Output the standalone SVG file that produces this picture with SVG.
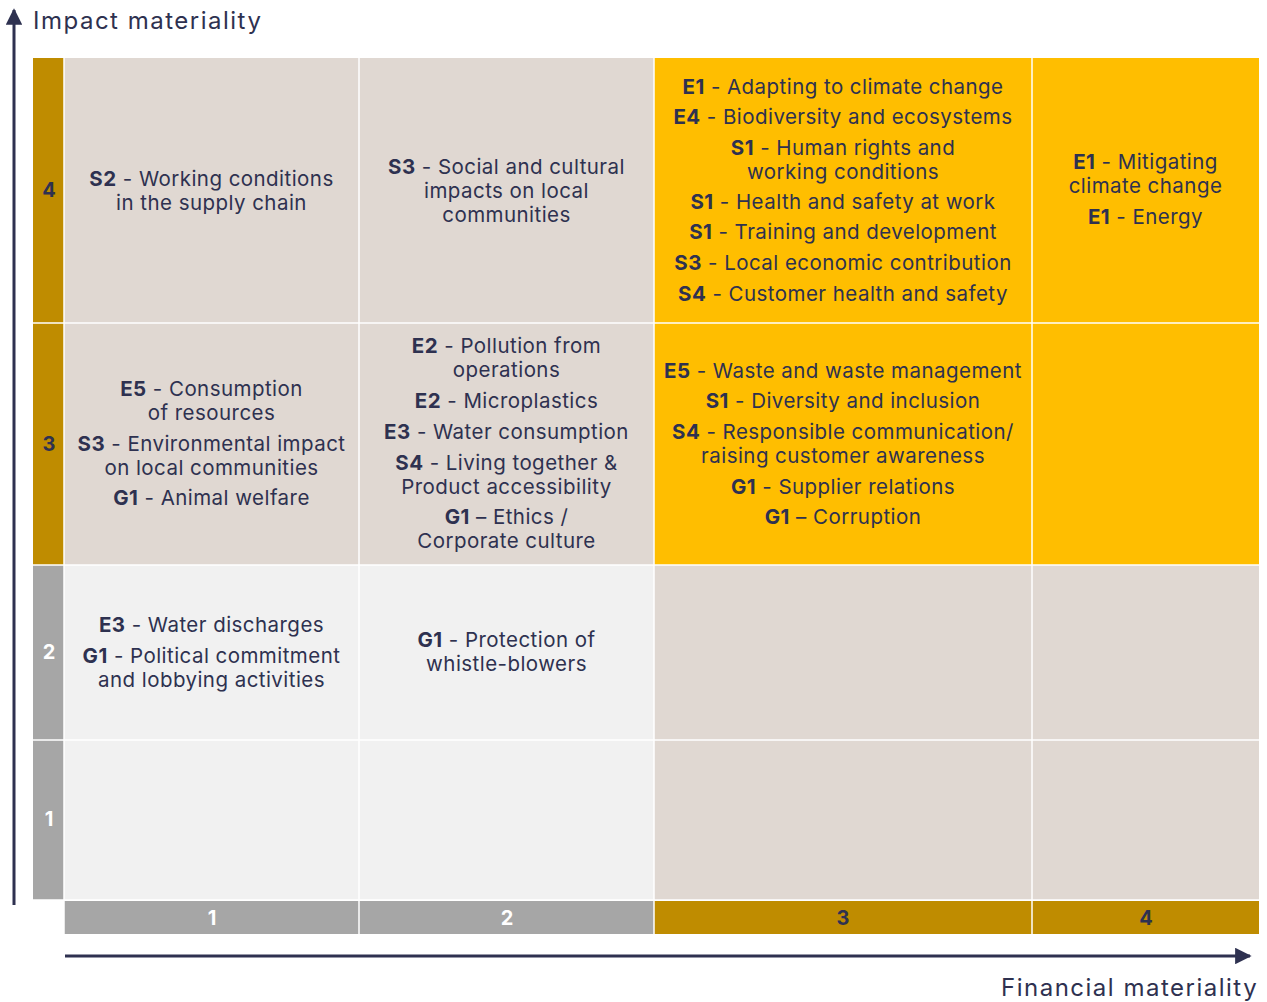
<svg xmlns="http://www.w3.org/2000/svg" width="1267" height="1002" viewBox="0 0 1267 1002">
<style>
.t{font-family:Inter,"Liberation Sans",sans-serif;font-size:20.5px;letter-spacing:0.45px;fill:#2E3150;text-anchor:middle}
.t tspan.b{font-weight:700}
.n{font-family:Inter,"Liberation Sans",sans-serif;font-size:20px;font-weight:700;text-anchor:middle}
.dk{fill:#2E3150}
.wh{fill:#FFFFFF}
.ax{font-family:Inter,"Liberation Sans",sans-serif;font-size:24px;fill:#2E3150;letter-spacing:1.5px}
.beige{fill:#E0D8D2}
.yel{fill:#FFBE00}
.gold{fill:#BF8C00}
.grey{fill:#A6A6A6}
.lg{fill:#F1F1F1}
.sep{stroke:#FFFFFF;stroke-width:1.5}
.axis{stroke:#2E3150;stroke-width:3;fill:none}
</style>
<defs>
<marker id="ah" viewBox="0 0 10 10" refX="9" refY="5" markerWidth="5.5" markerHeight="5.5" markerUnits="strokeWidth" orient="auto">
<path d="M0,0 L10,5 L0,10 z" fill="#2E3150"/>
</marker>
</defs>
<rect width="1267" height="1002" fill="#FFFFFF"/>

<g id="connectors">
<line class="axis" x1="14" y1="905" x2="14" y2="10" marker-end="url(#ah)"/>
<line class="axis" x1="65" y1="956" x2="1250" y2="956" marker-end="url(#ah)"/>
</g>

<g id="axis-labels">
<text class="ax" x="33" y="29">Impact materiality</text>
<text class="ax" x="1001" y="996">Financial materiality</text>
</g>

<g id="row-labels">
<rect class="gold" x="33" y="58" width="31" height="265"/>
<rect class="gold" x="33" y="323" width="31" height="242"/>
<rect class="grey" x="33" y="565" width="31" height="175"/>
<rect class="grey" x="33" y="740" width="31" height="160"/>
<text class="n dk" x="49" y="197">4</text>
<text class="n dk" x="49" y="451">3</text>
<text class="n wh" x="49" y="659">2</text>
<text class="n wh" x="49" y="826">1</text>
</g>

<g id="col-labels">
<rect class="grey" x="64" y="901" width="295" height="33"/>
<rect class="grey" x="359" y="901" width="295" height="33"/>
<rect class="gold" x="654" y="901" width="378" height="33"/>
<rect class="gold" x="1032" y="901" width="227" height="33"/>
<text class="n wh" x="212" y="925">1</text>
<text class="n wh" x="507" y="925">2</text>
<text class="n dk" x="843" y="925">3</text>
<text class="n dk" x="1146" y="925">4</text>
</g>

<g id="cells-bg">
<rect class="beige" x="64" y="58" width="295" height="265"/>
<rect class="beige" x="359" y="58" width="295" height="265"/>
<rect class="yel" x="654" y="58" width="378" height="265"/>
<rect class="yel" x="1032" y="58" width="227" height="265"/>
<rect class="beige" x="64" y="323" width="295" height="242"/>
<rect class="beige" x="359" y="323" width="295" height="242"/>
<rect class="yel" x="654" y="323" width="378" height="242"/>
<rect class="yel" x="1032" y="323" width="227" height="242"/>
<rect class="lg" x="64" y="565" width="295" height="175"/>
<rect class="lg" x="359" y="565" width="295" height="175"/>
<rect class="beige" x="654" y="565" width="378" height="175"/>
<rect class="beige" x="1032" y="565" width="227" height="175"/>
<rect class="lg" x="64" y="740" width="295" height="160"/>
<rect class="lg" x="359" y="740" width="295" height="160"/>
<rect class="beige" x="654" y="740" width="378" height="160"/>
<rect class="beige" x="1032" y="740" width="227" height="160"/>
</g>

<g id="grid-lines">
<line class="sep" x1="64" y1="58" x2="64" y2="934"/>
<line class="sep" x1="359" y1="58" x2="359" y2="934"/>
<line class="sep" x1="654" y1="58" x2="654" y2="934"/>
<line class="sep" x1="1032" y1="58" x2="1032" y2="934"/>
<line class="sep" x1="33" y1="323" x2="1259" y2="323"/>
<line class="sep" x1="33" y1="565" x2="1259" y2="565"/>
<line class="sep" x1="33" y1="740" x2="1259" y2="740"/>
<line class="sep" x1="33" y1="900" x2="1259" y2="900"/>
</g>

<g id="cell-4-1">
<text class="t" x="211.5" y="186"><tspan class="b">S2</tspan> - Working conditions</text>
<text class="t" x="211.5" y="210">in the supply chain</text>
</g>
<g id="cell-4-2">
<text class="t" x="506.5" y="174"><tspan class="b">S3</tspan> - Social and cultural</text>
<text class="t" x="506.5" y="198">impacts on local</text>
<text class="t" x="506.5" y="222">communities</text>
</g>
<g id="cell-4-3">
<text class="t" x="843" y="94"><tspan class="b">E1</tspan> - Adapting to climate change</text>
<text class="t" x="843" y="124"><tspan class="b">E4</tspan> - Biodiversity and ecosystems</text>
<text class="t" x="843" y="155"><tspan class="b">S1</tspan> - Human rights and</text>
<text class="t" x="843" y="179">working conditions</text>
<text class="t" x="843" y="209"><tspan class="b">S1</tspan> - Health and safety at work</text>
<text class="t" x="843" y="239"><tspan class="b">S1</tspan> - Training and development</text>
<text class="t" x="843" y="270"><tspan class="b">S3</tspan> - Local economic contribution</text>
<text class="t" x="843" y="301"><tspan class="b">S4</tspan> - Customer health and safety</text>
</g>
<g id="cell-4-4">
<text class="t" x="1145.5" y="169"><tspan class="b">E1</tspan> - Mitigating</text>
<text class="t" x="1145.5" y="193">climate change</text>
<text class="t" x="1145.5" y="224"><tspan class="b">E1</tspan> - Energy</text>
</g>

<g id="cell-3-1">
<text class="t" x="211.5" y="396"><tspan class="b">E5</tspan> - Consumption</text>
<text class="t" x="211.5" y="420">of resources</text>
<text class="t" x="211.5" y="451"><tspan class="b">S3</tspan> - Environmental impact</text>
<text class="t" x="211.5" y="475">on local communities</text>
<text class="t" x="211.5" y="505"><tspan class="b">G1</tspan> - Animal welfare</text>
</g>
<g id="cell-3-2">
<text class="t" x="506.5" y="353"><tspan class="b">E2</tspan> - Pollution from</text>
<text class="t" x="506.5" y="377">operations</text>
<text class="t" x="506.5" y="408"><tspan class="b">E2</tspan> - Microplastics</text>
<text class="t" x="506.5" y="439"><tspan class="b">E3</tspan> - Water consumption</text>
<text class="t" x="506.5" y="470"><tspan class="b">S4</tspan> - Living together &amp;</text>
<text class="t" x="506.5" y="494">Product accessibility</text>
<text class="t" x="506.5" y="524"><tspan class="b">G1</tspan> – Ethics /</text>
<text class="t" x="506.5" y="548">Corporate culture</text>
</g>
<g id="cell-3-3">
<text class="t" x="843" y="378"><tspan class="b">E5</tspan> - Waste and waste management</text>
<text class="t" x="843" y="408"><tspan class="b">S1</tspan> - Diversity and inclusion</text>
<text class="t" x="843" y="439"><tspan class="b">S4</tspan> - Responsible communication/</text>
<text class="t" x="843" y="463">raising customer awareness</text>
<text class="t" x="843" y="494"><tspan class="b">G1</tspan> - Supplier relations</text>
<text class="t" x="843" y="524"><tspan class="b">G1</tspan> – Corruption</text>
</g>

<g id="cell-2-1">
<text class="t" x="211.5" y="632"><tspan class="b">E3</tspan> - Water discharges</text>
<text class="t" x="211.5" y="663"><tspan class="b">G1</tspan> - Political commitment</text>
<text class="t" x="211.5" y="687">and lobbying activities</text>
</g>
<g id="cell-2-2">
<text class="t" x="506.5" y="647"><tspan class="b">G1</tspan> - Protection of</text>
<text class="t" x="506.5" y="671">whistle-blowers</text>
</g>
</svg>
